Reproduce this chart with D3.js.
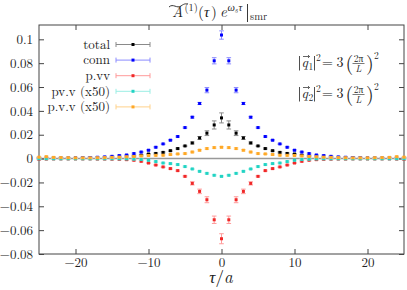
<!DOCTYPE html>
<html>
<head>
<meta charset="utf-8">
<script src="https://cdn.jsdelivr.net/npm/d3@7"></script>
<style>
  body { margin: 0; background: #fff; }
</style>
</head>
<body>
<div id="chart"></div>
<script>
var W = 407, H = 290;
var margin = { left: 39, right: 3, top: 25, bottom: 36 };
var FONT = "Latin Modern Roman";
var INK = "#222";

// data
var tau = [-25,-24,-23,-22,-21,-20,-19,-18,-17,-16,-15,-14,-13,-12,-11,-10,-9,-8,-7,-6,-5,-4,-3,-2,-1,
           0,1,2,3,4,5,6,7,8,9,10,11,12,13,14,15,16,17,18,19,20,21,22,23,24,25];

var total = [0.0004,0.0004,0.0004,0.0004,0.0004,0.0004,0.0005,0.0006,0.0007,0.0008,0.0010,0.0012,0.0016,0.0021,0.0028,0.0038,0.0043,0.0052,0.0066,0.0084,0.0106,0.0131,0.0173,0.0213,0.0282,
             0.0341,
             0.0282,0.0213,0.0173,0.0131,0.0106,0.0084,0.0066,0.0052,0.0043,0.0038,0.0028,0.0021,0.0016,0.0012,0.0010,0.0008,0.0007,0.0006,0.0005,0.0004,0.0004,0.0004,0.0004,0.0004,0.0004];

var conn = [0.0005,0.0006,0.0007,0.0005,0.0005,0.0006,0.0007,0.0009,0.0011,0.0014,0.0019,0.0025,0.0030,0.0042,0.0055,0.0070,0.0095,0.0123,0.0154,0.0185,0.0260,0.0347,0.0462,0.0574,0.0820,
            0.1036,
            0.0820,0.0574,0.0462,0.0347,0.0260,0.0185,0.0154,0.0123,0.0095,0.0070,0.0055,0.0042,0.0030,0.0025,0.0019,0.0014,0.0011,0.0009,0.0007,0.0006,0.0005,0.0005,0.0007,0.0006,0.0005];

var pvv = [-0.0006,-0.0004,-0.0003,-0.0003,-0.0003,-0.0003,-0.0003,-0.0003,-0.0004,-0.0004,-0.0005,-0.0006,-0.0009,-0.0014,-0.0023,-0.0037,-0.0054,-0.0070,-0.0084,-0.0101,-0.0149,-0.0208,-0.0275,-0.0345,-0.0513,
           -0.0672,
           -0.0513,-0.0345,-0.0275,-0.0208,-0.0149,-0.0101,-0.0084,-0.0070,-0.0054,-0.0037,-0.0023,-0.0014,-0.0009,-0.0006,-0.0005,-0.0004,-0.0004,-0.0003,-0.0003,-0.0003,-0.0003,-0.0003,-0.0003,-0.0004,-0.0006];

var pv_v = [-0.0002,-0.0002,-0.0002,-0.0002,-0.0002,-0.0002,-0.0002,-0.0002,-0.0002,-0.0002,-0.0002,-0.0002,-0.0003,-0.0005,-0.0008,-0.0014,-0.0025,-0.0037,-0.0042,-0.0050,-0.0067,-0.0087,-0.0107,-0.0124,-0.0140,
            -0.0149,
            -0.0140,-0.0124,-0.0107,-0.0087,-0.0067,-0.0050,-0.0042,-0.0037,-0.0025,-0.0014,-0.0008,-0.0005,-0.0003,-0.0002,-0.0002,-0.0002,-0.0002,-0.0002,-0.0002,-0.0002,-0.0002,-0.0002,-0.0002,-0.0002,-0.0002];

var p_v_v = [0.0012,0.0016,0.0010,0.0008,0.0007,0.0006,0.0006,0.0006,0.0007,0.0008,0.0010,0.0012,0.0015,0.0018,0.0022,0.0026,0.0027,0.0028,0.0034,0.0039,0.0042,0.0055,0.0070,0.0084,0.0092,
             0.0095,
             0.0092,0.0084,0.0070,0.0055,0.0042,0.0039,0.0034,0.0028,0.0027,0.0026,0.0022,0.0018,0.0015,0.0012,0.0010,0.0008,0.0007,0.0006,0.0006,0.0006,0.0007,0.0008,0.0010,0.0016,0.0012];

// error bars near the peak, a small floor elsewhere
var errTau   = [-4, -3, -2, -1, 0, 1, 2, 3, 4];
var errTotal = [0.0008,0.0012,0.0020,0.0034,0.0042,0.0034,0.0020,0.0012,0.0008];
var errConn  = [0.0007,0.0009,0.0022,0.0026,0.0035,0.0026,0.0022,0.0009,0.0007];
var errPvv   = [0.0013,0.0019,0.0025,0.0031,0.0042,0.0031,0.0025,0.0019,0.0013];
var errPv_v  = [0.0005,0.0005,0.0005,0.0005,0.0005,0.0005,0.0005,0.0005,0.0005];
var errP_v_v = [0.0006,0.0006,0.0006,0.0006,0.0006,0.0006,0.0006,0.0006,0.0006];
var errFloor = 0.0005;

var seriesNames = ["total", "conn", "p.vv", "pv.v (x50)", "p.v.v (x50)"];
var seriesVals  = [total, conn, pvv, pv_v, p_v_v];
var seriesErr   = [errTotal, errConn, errPvv, errPv_v, errP_v_v];
var pointColors = ["#000000", "#0000ff", "#f02828", "#22d3c4", "#ffa826"];
var barColors   = ["#8a8a8a", "#8c8cff", "#ff9a9a", "#9aeee4", "#ffd28a"];

var xTicks = [-20, -10, 0, 10, 20];
var yTicks = [-0.08, -0.06, -0.04, -0.02, 0, 0.02, 0.04, 0.06, 0.08, 0.1];

var svg = d3.select("#chart").append("svg")
    .attr("width", W)
    .attr("height", H)
    .attr("font-family", FONT);

var x = d3.scaleLinear().domain([-25, 25]).range([margin.left, W - margin.right]);
var y = d3.scaleLinear().domain([-0.08, 0.112]).range([H - margin.bottom, margin.top]);

var fmt = d3.format("~g");

//zero line
svg.append("line")
    .attr("x1", x(-25)).attr("x2", x(25))
    .attr("y1", y(0)).attr("y2", y(0))
    .attr("stroke", "#999")
    .attr("stroke-width", 1.5);

//axes with inward ticks on all four sides
function styleAxis(g) {
    g.attr("font-family", FONT).attr("font-size", 13);
    g.select(".domain").remove();
    g.selectAll(".tick line").attr("stroke", "#444");
    g.selectAll(".tick text")
        .attr("font-family", FONT)
        .attr("font-size", 13)
        .attr("fill", INK);
}

svg.append("g")
    .attr("transform", "translate(0," + y.range()[0] + ")")
    .call(d3.axisBottom(x).tickValues(xTicks).tickSize(-5).tickPadding(4).tickFormat(fmt))
    .call(styleAxis);

svg.append("g")
    .attr("transform", "translate(0," + y.range()[1] + ")")
    .call(d3.axisTop(x).tickValues(xTicks).tickSize(-5).tickFormat(""))
    .call(styleAxis);

svg.append("g")
    .attr("transform", "translate(" + x.range()[0] + ",0)")
    .call(d3.axisLeft(y).tickValues(yTicks).tickSize(-5).tickPadding(6).tickFormat(fmt))
    .call(styleAxis);

svg.append("g")
    .attr("transform", "translate(" + x.range()[1] + ",0)")
    .call(d3.axisRight(y).tickValues(yTicks).tickSize(-5).tickFormat(""))
    .call(styleAxis);

//frame
svg.append("rect")
    .attr("x", x.range()[0]).attr("y", y.range()[1])
    .attr("width", x.range()[1] - x.range()[0])
    .attr("height", y.range()[0] - y.range()[1])
    .attr("fill", "none")
    .attr("stroke", "#444")
    .attr("stroke-width", 1);

//points with error bars
var cap = 2.3;
seriesVals.forEach(function(vals, s) {
    var pts = tau.map(function(t, i) {
        var k = errTau.indexOf(t);
        return { t: t, v: vals[i], e: k >= 0 ? seriesErr[s][k] : errFloor };
    });
    var g = svg.append("g").attr("class", "series");
    g.selectAll(".err").data(pts).enter().append("path")
        .attr("class", "err")
        .attr("fill", "none")
        .attr("stroke", barColors[s])
        .attr("stroke-width", 1)
        .attr("d", function(d) {
            var cx = x(d.t), y1 = y(d.v - d.e), y2 = y(d.v + d.e);
            return "M" + cx + "," + y1 + "L" + cx + "," + y2 +
                "M" + (cx - cap) + "," + y1 + "L" + (cx + cap) + "," + y1 +
                "M" + (cx - cap) + "," + y2 + "L" + (cx + cap) + "," + y2;
        });
    g.selectAll(".pt").data(pts).enter().append("rect")
        .attr("class", "pt")
        .attr("x", function(d) { return x(d.t) - 1.5; })
        .attr("y", function(d) { return y(d.v) - 1.5; })
        .attr("width", 3).attr("height", 3)
        .attr("fill", pointColors[s]);
});

//plain text helper, one font name only
function txt(xp, yp, size, str, italic) {
    return svg.append("text")
        .attr("x", xp).attr("y", yp)
        .attr("font-family", FONT)
        .attr("font-size", size)
        .attr("font-style", italic ? "italic" : "normal")
        .attr("fill", INK)
        .text(str);
}

//legend
var legX = 110, legY0 = 44.5, legDy = 15.6;
seriesNames.forEach(function(name, s) {
    var ly = legY0 + s * legDy;
    txt(legX, ly + 4.3, 13, name, false).attr("text-anchor", "end");
    svg.append("path")
        .attr("fill", "none")
        .attr("stroke", barColors[s])
        .attr("stroke-width", 1)
        .attr("d", "M116," + ly + "L150," + ly +
            "M116," + (ly - 2.5) + "L116," + (ly + 2.5) +
            "M150," + (ly - 2.5) + "L150," + (ly + 2.5));
    svg.append("rect")
        .attr("x", 133 - 1.5).attr("y", ly - 1.5)
        .attr("width", 3).attr("height", 3)
        .attr("fill", pointColors[s]);
});

//title, built piece by piece
txt(172, 17, 15, "A", true);
svg.append("path")
    .attr("fill", "none")
    .attr("stroke", INK)
    .attr("stroke-width", 0.9)
    .attr("d", "M169,7 C173,3 177,9 181,6 S186,4 188,4");
txt(184.5, 11, 10.5, "(1)", false);
txt(198, 17, 15, "(", false);
txt(204, 17, 15, "τ", true);
txt(211, 17, 15, ")", false);
txt(220, 17, 15, "e", true);
txt(227.5, 10.5, 10.5, "ω", true);
txt(234.5, 13, 8, "s", true);
txt(238.5, 10.5, 10.5, "τ", true);
svg.append("line")
    .attr("x1", 247.5).attr("x2", 247.5)
    .attr("y1", 4).attr("y2", 22)
    .attr("stroke", INK).attr("stroke-width", 0.9);
txt(250, 20, 10.5, "smr", false);

//momentum labels
function momentum(baseY, sub) {
    svg.append("line")
        .attr("x1", 299.5).attr("x2", 299.5)
        .attr("y1", baseY - 11).attr("y2", baseY + 3.5)
        .attr("stroke", INK).attr("stroke-width", 0.8);
    txt(301.5, baseY, 14, "q", true);
    svg.append("path")
        .attr("fill", "none")
        .attr("stroke", INK)
        .attr("stroke-width", 0.7)
        .attr("d", "M303," + (baseY - 10.5) + "L309.5," + (baseY - 10.5) +
            "M308," + (baseY - 12) + "L309.5," + (baseY - 10.5) + "L308," + (baseY - 9));
    txt(308.5, baseY + 3, 9.5, sub, false);
    svg.append("line")
        .attr("x1", 314.5).attr("x2", 314.5)
        .attr("y1", baseY - 11).attr("y2", baseY + 3.5)
        .attr("stroke", INK).attr("stroke-width", 0.8);
    txt(316, baseY - 6, 9.5, "2", false);
    txt(322, baseY, 14, "=", false);
    txt(336.5, baseY, 14, "3", false);
    txt(345.5, baseY + 3, 20, "(", false);
    txt(366, baseY + 3, 20, ")", false);
    txt(374, baseY - 8, 9.5, "2", false);
    txt(358.5, baseY - 5.5, 9.5, "2π", false).attr("text-anchor", "middle");
    svg.append("line")
        .attr("x1", 352.5).attr("x2", 364.5)
        .attr("y1", baseY - 3.5).attr("y2", baseY - 3.5)
        .attr("stroke", INK).attr("stroke-width", 0.6);
    txt(358.5, baseY + 5, 9.5, "L", true).attr("text-anchor", "middle");
}
momentum(67, "1");
momentum(98, "2");

//axis label
var xl = svg.append("text")
    .attr("x", 221).attr("y", 283)
    .attr("text-anchor", "middle")
    .attr("font-family", FONT)
    .attr("font-size", 17)
    .attr("fill", INK);
xl.append("tspan").attr("font-style", "italic").text("τ");
xl.append("tspan").text("/");
xl.append("tspan").attr("font-style", "italic").text("a");
</script>
</body>
</html>
